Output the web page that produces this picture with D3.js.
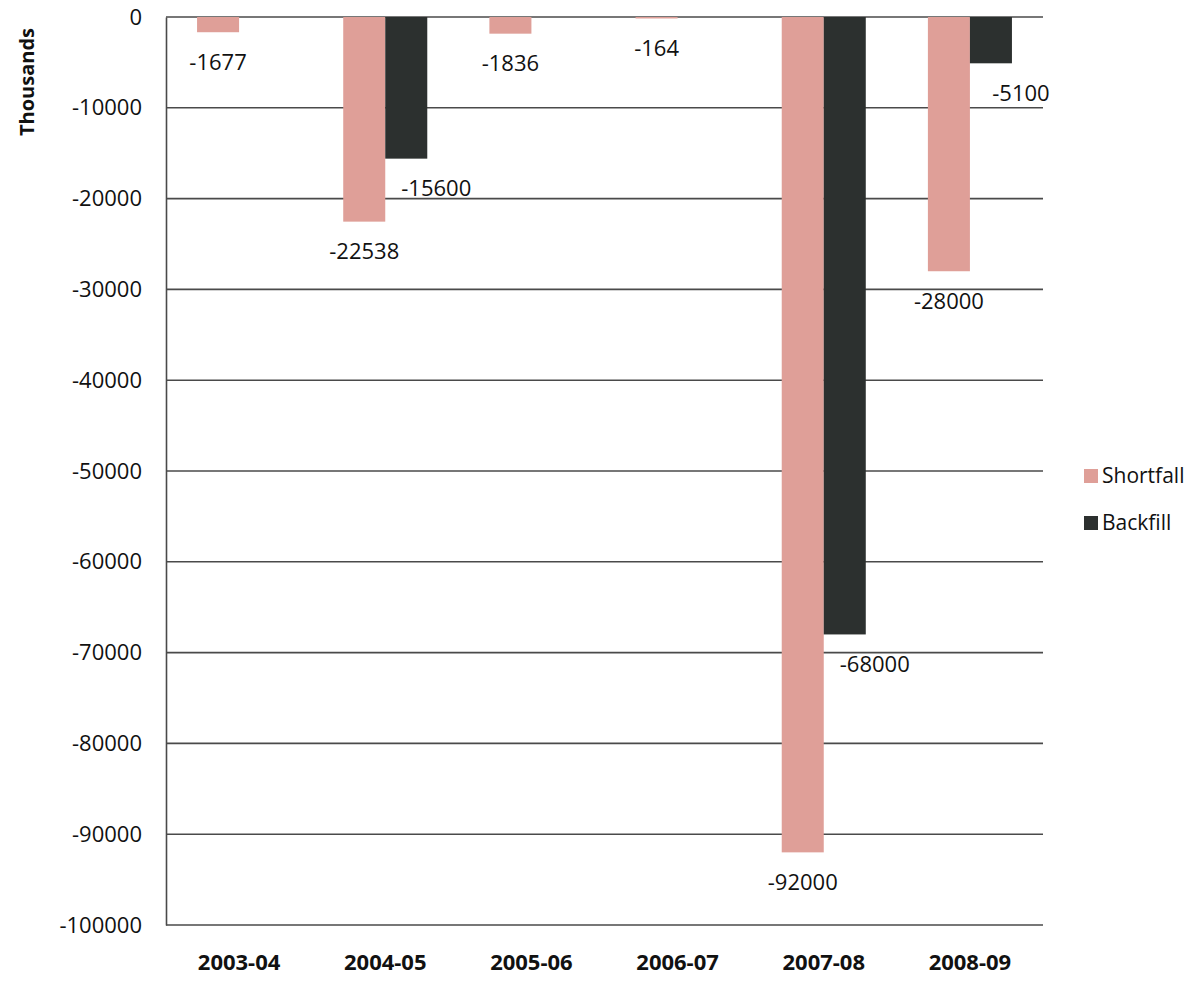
<!DOCTYPE html>
<html>
<head>
    <meta charset="utf-8">
    <script src="https://d3js.org/d3.v7.min.js"></script>
    <style>
        body { margin: 0; background: #fff; }
        text { font-family: "Open Sans", sans-serif; fill: #111; }
    </style>
</head>
<body>
    <div id="chart"></div>
    <script>
        var years = ["2003-04", "2004-05", "2005-06", "2006-07", "2007-08", "2008-09"];
        var shortfall = [-1677, -22538, -1836, -164, -92000, -28000];
        var backfill = [null, -15600, null, null, -68000, -5100];
        var seriesNames = ["Shortfall", "Backfill"];
        var yTicks = [0, -10000, -20000, -30000, -40000, -50000, -60000, -70000, -80000, -90000, -100000];

        var colors = { Shortfall: "#df9f98", Backfill: "#2c302f" };

        var width = 1204, height = 982;
        var margin = { top: 17, right: 161, bottom: 57, left: 166 };

        var svg = d3.select("#chart")
            .append("svg")
            .attr("width", width)
            .attr("height", height);

        var x = d3.scaleBand()
            .domain(years)
            .range([margin.left, width - margin.right])
            .paddingInner(0.425)
            .paddingOuter(0.2125);

        var xSub = d3.scaleBand()
            .domain(seriesNames)
            .range([0, x.bandwidth()]);

        var y = d3.scaleLinear()
            .domain([0, -100000])
            .range([margin.top, height - margin.bottom]);

        // gridlines
        svg.append("g")
            .selectAll("line")
            .data(yTicks)
            .enter()
            .append("line")
            .attr("x1", margin.left)
            .attr("x2", width - margin.right)
            .attr("y1", function (d) { return y(d); })
            .attr("y2", function (d) { return y(d); })
            .attr("stroke", "#4a4a4a")
            .attr("stroke-width", 1.6);

        // left axis
        var yAxis = svg.append("g")
            .attr("transform", "translate(" + margin.left + ",0)")
            .call(d3.axisLeft(y).tickValues(yTicks).tickSize(0).tickPadding(24)
                .tickFormat(function (d) { return String(d); }));
        yAxis.select(".domain").attr("stroke", "#4a4a4a").attr("stroke-width", 1.6);
        yAxis.selectAll("text")
            .style("font-size", "22px")
            .style("font-family", "'Open Sans', sans-serif")
            .attr("fill", "#111");

        // x labels
        var xAxis = svg.append("g")
            .attr("transform", "translate(0," + y(-100000) + ")")
            .call(d3.axisBottom(x).tickSize(0).tickPadding(29));
        xAxis.select(".domain").remove();
        xAxis.selectAll("text")
            .style("font-size", "22px")
            .style("font-weight", "bold")
            .style("font-family", "'Open Sans', sans-serif")
            .attr("fill", "#222");

        var rows = years.map(function (yr, i) {
            return { year: yr, Shortfall: shortfall[i], Backfill: backfill[i] };
        });

        var bars = [];
        rows.forEach(function (r) {
            seriesNames.forEach(function (s) {
                if (r[s] !== null) bars.push({ year: r.year, series: s, value: r[s] });
            });
        });

        svg.append("g")
            .selectAll("rect")
            .data(bars)
            .enter()
            .append("rect")
            .attr("x", function (d) { return x(d.year) + xSub(d.series); })
            .attr("width", xSub.bandwidth())
            .attr("y", y(0))
            .attr("height", function (d) { return y(d.value) - y(0); })
            .attr("fill", function (d) { return colors[d.series]; });

        // data labels
        svg.append("g")
            .selectAll("text")
            .data(bars)
            .enter()
            .append("text")
            .attr("x", function (d) {
                var cx = x(d.year) + xSub(d.series) + xSub.bandwidth() / 2;
                return d.series === "Backfill" ? cx + 30 : cx;
            })
            .attr("y", function (d) { return y(d.value) + 30; })
            .attr("dy", "0.35em")
            .attr("text-anchor", "middle")
            .style("font-size", "22px")
            .text(function (d) { return String(d.value); });

        // y title
        svg.append("text")
            .attr("transform", "translate(27,82) rotate(-90)")
            .attr("text-anchor", "middle")
            .attr("dy", "0.35em")
            .style("font-size", "20px")
            .style("font-weight", "bold")
            .text("Thousands");

        // legend
        var legend = svg.append("g")
            .selectAll("g")
            .data(seriesNames)
            .enter()
            .append("g")
            .attr("transform", function (d, i) {
                return "translate(1084," + (476 + i * 47) + ")";
            });
        legend.append("rect")
            .attr("x", 0)
            .attr("y", -7)
            .attr("width", 14)
            .attr("height", 14)
            .attr("fill", function (d) { return colors[d]; });
        legend.append("text")
            .attr("x", 18)
            .attr("dy", "0.35em")
            .style("font-size", "21px")
            .text(function (d) { return d; });
    </script>
</body>
</html>
